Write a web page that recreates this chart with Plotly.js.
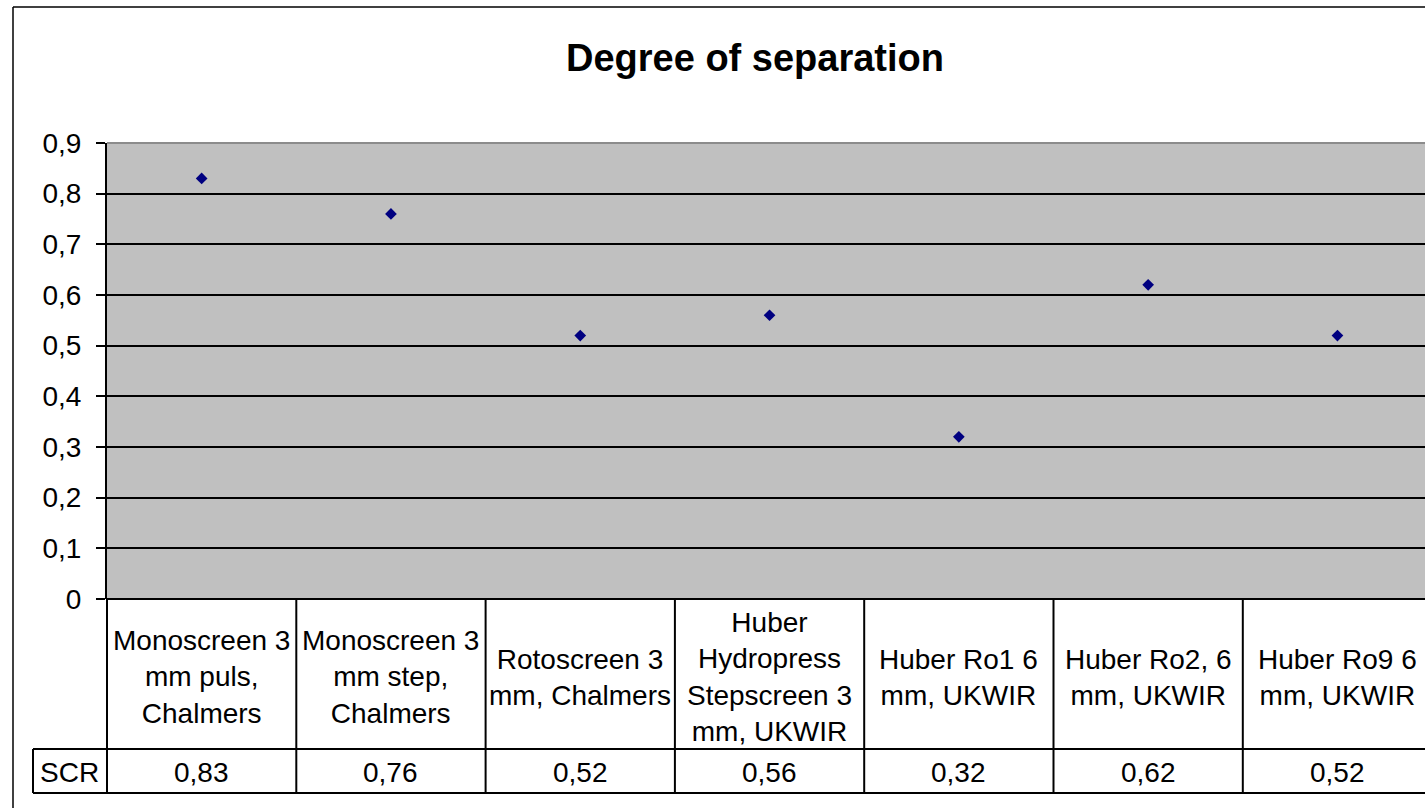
<!DOCTYPE html>
<html>
<head>
<meta charset="utf-8">
<script src="https://cdn.plot.ly/plotly-3.0.1.min.js"></script>
<style>
  html, body { margin: 0; padding: 0; background: #ffffff; overflow: hidden; }
  #chart { width: 1425px; height: 808px; }
</style>
</head>
<body>
<div id="chart"></div>
<script>
// ---- data ----
const categories = [
  "Monoscreen 3<br>mm puls,<br>Chalmers",
  "Monoscreen 3<br>mm step,<br>Chalmers",
  "Rotoscreen 3<br>mm, Chalmers",
  "Huber<br>Hydropress<br>Stepscreen 3<br>mm, UKWIR",
  "Huber Ro1 6<br>mm, UKWIR",
  "Huber Ro2, 6<br>mm, UKWIR",
  "Huber Ro9 6<br>mm, UKWIR"
];
const seriesName = "SCR";
const scrValues = [0.83, 0.76, 0.52, 0.56, 0.32, 0.62, 0.52];
const chartTitle = "Degree of separation";

// ---- layout geometry (pixels) ----
const W = 1425, H = 808;
const L = 107, T = 143, R = 1425, B = 599;
const xr = [-0.5, -0.5 + (R - L) / 189.3];
const rowSplit = 749, tableBottom = 793, scrLeft = 33;
const frameLeft = 13, frameTop = 7;

function px(x) { return (x - L) / (R - L); }
function py(y) { return (B - y) / (B - T); }
function xv(v) { return (v - xr[0]) / (xr[1] - xr[0]); }

const idx = categories.map((_, i) => i);
const fmt = v => v.toFixed(2).replace('.', ',');

const font = "Liberation Sans, Arial, sans-serif";
const line = { color: '#000000', width: 2 };

const shapes = [];
// outer chart frame (left + top)
shapes.push({ type: 'line', xref: 'paper', yref: 'paper', x0: px(frameLeft), x1: px(frameLeft), y0: py(frameTop), y1: py(H + 5), line: { color: '#000', width: 1.5 } });
shapes.push({ type: 'line', xref: 'paper', yref: 'paper', x0: px(frameLeft), x1: px(W + 5), y0: py(frameTop), y1: py(frameTop), line: { color: '#000', width: 1.5 } });
// top edge of plot area in grey
shapes.push({ type: 'line', xref: 'paper', yref: 'paper', x0: 0, x1: 1, y0: 1, y1: 1, line: { color: '#8c8c8c', width: 2 } });
// table: left line under axis
shapes.push({ type: 'line', xref: 'paper', yref: 'paper', x0: 0, x1: 0, y0: 0, y1: py(tableBottom), line: line });
// table top (x-axis line)
shapes.push({ type: 'line', xref: 'paper', yref: 'paper', x0: 0, x1: 1.01, y0: 0, y1: 0, line: line });
// row split and bottom
shapes.push({ type: 'line', xref: 'paper', yref: 'paper', x0: px(scrLeft), x1: 1.01, y0: py(rowSplit), y1: py(rowSplit), line: line });
shapes.push({ type: 'line', xref: 'paper', yref: 'paper', x0: px(scrLeft), x1: 1.01, y0: py(tableBottom), y1: py(tableBottom), line: line });
// SCR cell left border
shapes.push({ type: 'line', xref: 'paper', yref: 'paper', x0: px(scrLeft), x1: px(scrLeft), y0: py(rowSplit), y1: py(tableBottom), line: line });
// column separators
for (let i = 0; i < categories.length; i++) {
  const xb = xv(i + 0.5);
  if (xb <= 1) {
    shapes.push({ type: 'line', xref: 'paper', yref: 'paper', x0: xb, x1: xb, y0: 0, y1: py(tableBottom), line: line });
  }
}

const annotations = [];
categories.forEach((c, i) => {
  annotations.push({
    xref: 'x', yref: 'paper', x: i, y: py(677), text: c, showarrow: false,
    xanchor: 'center', yanchor: 'middle', align: 'center',
    font: { family: font, size: 28, color: '#000' }
  });
  annotations.push({
    xref: 'x', yref: 'paper', x: i, y: py(772), text: fmt(scrValues[i]), showarrow: false,
    xanchor: 'center', yanchor: 'middle',
    font: { family: font, size: 28, color: '#000' }
  });
});
annotations.push({
  xref: 'paper', yref: 'paper', x: px(69), y: py(772), text: seriesName, showarrow: false,
  xanchor: 'center', yanchor: 'middle',
  font: { family: font, size: 28, color: '#000' }
});

const trace = {
  type: 'scatter', mode: 'markers', name: seriesName,
  x: idx, y: scrValues,
  marker: { symbol: 'diamond', size: 9, color: '#000080' },
  cliponaxis: false, hoverinfo: 'skip'
};

const layout = {
  width: W, height: H,
  margin: { l: L, r: W - R, t: T, b: H - B, pad: 0 },
  paper_bgcolor: '#ffffff',
  plot_bgcolor: '#c0c0c0',
  separators: ',.',
  showlegend: false,
  title: {
    text: '<b>' + chartTitle + '</b>',
    font: { family: font, size: 38, color: '#000' },
    xref: 'container', x: 755 / W, xanchor: 'center',
    yref: 'container', y: 1 - 58 / H, yanchor: 'middle'
  },
  xaxis: {
    range: xr, showgrid: false, zeroline: false, showticklabels: false,
    ticks: '', showline: false, fixedrange: true
  },
  yaxis: {
    range: [0, 0.9], tick0: 0, dtick: 0.1,
    showgrid: true, gridcolor: '#000000', gridwidth: 2,
    zeroline: false, showline: true, linecolor: '#000000', linewidth: 2,
    ticks: 'outside', ticklen: 9, tickwidth: 2, tickcolor: '#000000',
    ticklabelstandoff: 9,
    tickfont: { family: font, size: 28, color: '#000' },
    fixedrange: true
  },
  shapes: shapes,
  annotations: annotations
};

Plotly.newPlot('chart', [trace], layout, { displayModeBar: false, staticPlot: true });
</script>
</body>
</html>
